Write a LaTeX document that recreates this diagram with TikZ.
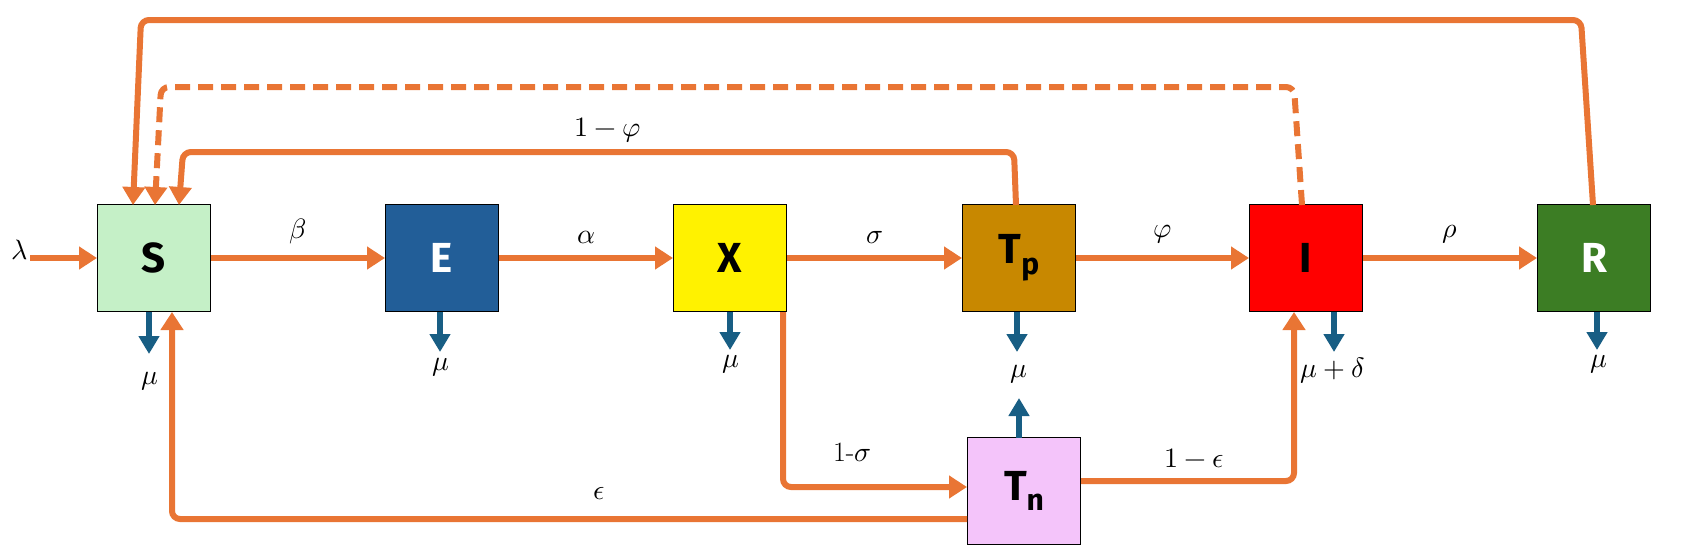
\documentclass[tikz,border=0pt]{standalone}
\usepackage{fontspec}
\usepackage{unicode-math}
\setsansfont{Fira Sans}
\usetikzlibrary{arrows.meta}
\definecolor{org}{RGB}{233,117,52}
\definecolor{blu}{RGB}{24,94,132}
\begin{document}
\begin{tikzpicture}[x=1pt,y=-1pt,
  box/.style={draw=black,line width=1pt,minimum width=113pt,minimum height=107pt,inner sep=0pt,font=\sffamily\bfseries\fontsize{42}{42}\selectfont},
  fl/.style={draw=org,line width=6pt,-{Triangle[width=22pt,length=18pt]},rounded corners=8pt},
  dl/.style={draw=blu,line width=6pt,-{Triangle[width=20pt,length=18pt]}},
  lb/.style={font=\fontsize{28}{28}\selectfont}]
\useasboundingbox (0,0) rectangle (1681,554);
\node[box,fill={rgb,255:red,197;green,240;blue,199}] (S) at (154,258) {S};
\node[box,fill={rgb,255:red,34;green,94;blue,152},text=white] (E) at (442,258) {E};
\node[box,fill=yellow] (X) at (730,258) {X};
\node[box,fill={rgb,255:red,200;green,136;blue,0}] (Tp) at (1019,258) {T\raisebox{-0.25em}{\fontsize{30}{30}\selectfont p}};
\node[box,fill=red] (I) at (1306,258) {I};
\node[box,fill={rgb,255:red,60;green,125;blue,36},text=white] (R) at (1594,258) {R};
\node[box,fill={rgb,255:red,244;green,196;blue,250}] (Tn) at (1024,491) {T\raisebox{-0.25em}{\fontsize{30}{30}\selectfont n}};
% inflow
\node[lb,inner sep=2pt] (lam) at (20,250) {$\lambda$};
\draw[fl] (lam.east|-S) -- (S.west);
\draw[fl] (S.east) -- (E.west) node[midway,above=8pt,lb]{$\beta$};
\draw[fl] (E.east) -- (X.west) node[midway,above=8pt,lb]{$\alpha$};
\draw[fl] (X.east) -- (Tp.west) node[midway,above=8pt,lb]{$\sigma$};
\draw[fl] (Tp.east) -- (I.west) node[midway,above=8pt,lb]{$\varphi$};
\draw[fl] (I.east) -- (R.west) node[midway,above=8pt,lb]{$\rho$};
% feedback loops
\coordinate (s1) at (133,205); \coordinate (s2) at (155,205); \coordinate (s3) at (179,205);
\draw[fl] (1593,205) -- (1581,20) -- (141,20) -- (s1);
\node[lb] at (866,-14) {$\theta$};
\draw[fl,dash pattern=on 15pt off 8pt] (1302,205) -- (1294,87) -- (161,87) -- (s2);
\draw[fl] (1016,205) -- (1014,152) -- (183,152) -- (s3);
\node[lb] at (608,130) {$1-\varphi$};
% X -> Tn
\draw[fl] (783,312) -- (783,487) -- (Tn.west|-0,487);
\node[lb] at (852,452) {1-$\sigma$};
% Tn -> I
\draw[fl] (Tn.east|-0,481) -- (1294,481) -- (1294,312);
\node[lb] at (1194,458) {$1-\epsilon$};
% Tn -> S
\draw[fl] (Tn.west|-0,519) -- (172,519) -- (172,312);
\node[lb] at (599,494) {$\epsilon$};
% deaths
\draw[dl] (149,312) -- (149,354); \node[lb] at (150,381) {$\mu$};
\draw[dl] (440,312) -- (440,352); \node[lb] at (441,367) {$\mu$};
\draw[dl] (730,312) -- (730,350); \node[lb] at (731,364) {$\mu$};
\draw[dl] (1017,312) -- (1017,352); \node[lb] at (1019,374) {$\mu$};
\draw[dl] (1019,438) -- (1019,398);
\draw[dl] (1334,312) -- (1334,352); \node[lb] at (1333,371) {$\mu+\delta$};
\draw[dl] (1597,312) -- (1597,350); \node[lb] at (1599,364) {$\mu$};
\end{tikzpicture}
\end{document}
